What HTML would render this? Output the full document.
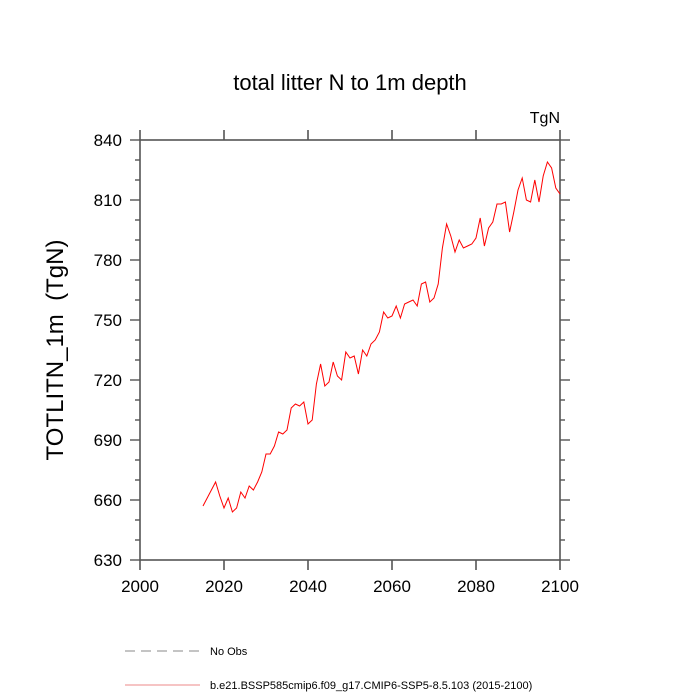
<!DOCTYPE html>
<html><head><meta charset="utf-8"><style>
body{margin:0;background:#fff}
svg{display:block;font-family:"Liberation Sans",sans-serif}
</style></head><body>
<svg id="chart" width="700" height="700">
<text x="350" y="90" text-anchor="middle" font-size="22">total litter N to 1m depth</text>
<text x="560" y="123" text-anchor="end" font-size="16">TgN</text>
<text transform="translate(63,350) rotate(-90)" text-anchor="middle" font-size="24" xml:space="preserve" style="white-space:pre">TOTLITN_1m  (TgN)</text>
<g id="axes"></g>
<g id="series"></g>
<line x1="125" y1="651" x2="200" y2="651" stroke="#888" stroke-dasharray="10,6"/>
<text x="210" y="655" font-size="11">No Obs</text>
<line x1="125" y1="685" x2="200" y2="685" stroke="#e88"/>
<text x="210" y="689" font-size="11">b.e21.BSSP585cmip6.f09_g17.CMIP6-SSP5-8.5.103 (2015-2100)</text>
</svg>
<script>
const startYear = 2015;
const values = [657,661,665,669,662,656,661,654,656,664,661,667,665,669,674,683,683,687,694,693,695,706,708,707,709,698,700,718,728,717,719,729,722,720,734,731,732,723,735,732,738,740,744,754,751,752,757,751,758,759,760,757,768,769,759,761,768,786,798,792,784,790,786,787,788,791,801,787,796,799,808,808,809,794,804,815,821,810,809,820,809,822,829,826,816,813];
const xTicks = [2000,2020,2040,2060,2080,2100];
const yTicks = [630,660,690,720,750,780,810,840];
const L=140,R=560,T=140,B=560;
const X=v=>L+(v-2000)/100*(R-L);
const Y=v=>B-(v-630)/210*(B-T);
const NS="http://www.w3.org/2000/svg";
const ax=document.getElementById('axes');
const C='#555';
function mk(tag,attrs,parent){const e=document.createElementNS(NS,tag);for(const k in attrs)e.setAttribute(k,attrs[k]);parent.appendChild(e);return e;}
const frame=mk('rect',{x:L,y:T,width:R-L,height:B-T,fill:'none',stroke:C,'stroke-width':1.6},ax);


xTicks.forEach(v=>{const x=X(v);
 mk('line',{x1:x,y1:B,x2:x,y2:B+10,stroke:C,'stroke-width':1.6},ax);
 mk('line',{x1:x,y1:T,x2:x,y2:T-10,stroke:C,'stroke-width':1.6},ax);});
for(let v=630;v<=840;v+=10){const major=(v-630)%30===0;const len=major?10:5;const y=Y(v);
 mk('line',{x1:L,y1:y,x2:L-len,y2:y,stroke:C,'stroke-width':1.4},ax);
 mk('line',{x1:R,y1:y,x2:R+len,y2:y,stroke:C,'stroke-width':1.4},ax);}
xTicks.forEach(v=>{const t=mk('text',{x:X(v),y:B+32,'text-anchor':'middle','font-size':17},ax);t.textContent=v;
 
 });
yTicks.forEach(v=>{const t=mk('text',{x:L-18,y:Y(v)+6,'text-anchor':'end','font-size':17},ax);t.textContent=v;
 
 });
const pts=values.map((v,i)=>X(startYear+i).toFixed(1)+','+Y(v).toFixed(1)).join(' ');
const line=mk('polyline',{points:pts,fill:'none',stroke:'#f00','stroke-width':1},document.getElementById('series'));


</script>
</body></html>
